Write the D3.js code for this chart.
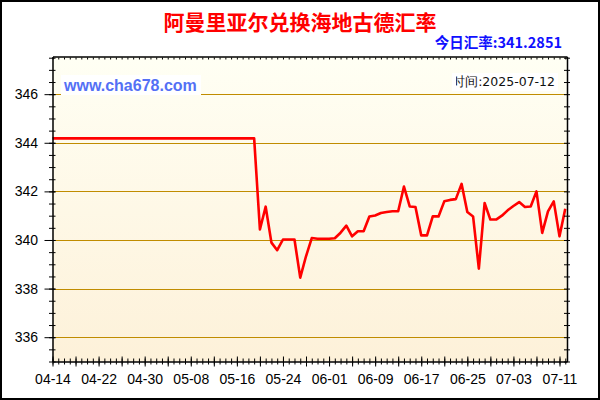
<!DOCTYPE html>
<html lang="zh">
<head>
<meta charset="utf-8"/>
<script src="https://cdnjs.cloudflare.com/ajax/libs/d3/7.8.5/d3.min.js"></script>
<style>
  body { margin: 0; background: #fff; }
  svg text { font-family: "Liberation Sans", Arial, sans-serif; }
</style>
</head>
<body>
<svg id="chart"></svg>
<script>
// chart data
var chartTitle = "阿曼里亚尔兑换海地古德汇率";
var todayRate = "今日汇率:341.2851";
var siteText = "www.cha678.com";
var timeText = "时间:2025-07-12";
var startDate = "2025-04-14";
var endDate = "2025-07-12";
var yTicks = [336, 338, 340, 342, 344, 346];
var rates = [
  344.18, 344.18, 344.18, 344.18, 344.18, 344.18, 344.18, 344.18, 344.18, 344.18,
  344.18, 344.18, 344.18, 344.18, 344.18, 344.18, 344.18, 344.18, 344.18, 344.18,
  344.18, 344.18, 344.18, 344.18, 344.18, 344.18, 344.18, 344.18, 344.18, 344.18,
  344.18, 344.18, 344.18, 344.18, 344.18, 344.18,
  340.43, 341.37, 339.89, 339.58, 340.02, 340.02, 340.02, 338.45, 339.33, 340.08,
  340.05, 340.05, 340.05, 340.07, 340.30, 340.59, 340.15, 340.36, 340.36, 340.97,
  341.01, 341.11, 341.15, 341.18, 341.18, 342.20, 341.38, 341.36, 340.19, 340.19,
  340.97, 340.97, 341.59, 341.65, 341.68, 342.31, 341.15, 340.97, 338.82, 341.52,
  340.84, 340.84, 341.00, 341.22, 341.40, 341.56, 341.36, 341.38, 342.00, 340.29,
  341.18, 341.59, 340.15, 341.2851
];

var W = 600, H = 400;
// plot box edges (named pl/pr/pt/pb so they don't clash with window.top)
var pl = 52.5, pr = 567, pt = 56.5, pb = 361.5;

var parse = d3.utcParse("%Y-%m-%d");
var d0 = parse(startDate), d1 = parse(endDate);
var days = d3.utcDay.range(d0, d3.utcDay.offset(d1, 1)); // one per day
var data = days.map(function(d, i) { return {date: d, value: rates[i]}; });

var x = d3.scaleUtc()
    .domain([d0, new Date(d1.getTime() + 0.3 * 864e5)])
    .range([pl, pr]);
var y = d3.scaleLinear()
    .domain([335, 347.55])
    .range([pb, pt]);

var svg = d3.select("#chart").attr("width", W).attr("height", H);

var defs = svg.append("defs");
var grad = defs.append("linearGradient")
    .attr("id", "bg").attr("x1", 0).attr("y1", 0).attr("x2", 0).attr("y2", 1);
grad.append("stop").attr("offset", "0%").attr("stop-color", "#fffff4");
grad.append("stop").attr("offset", "100%").attr("stop-color", "#fdf1d9");
// the time stamp is cut on its left side in the original
defs.append("clipPath").attr("id", "timeclip")
  .append("rect").attr("x", 456).attr("y", 70).attr("width", 110).attr("height", 24);

// outer frame
svg.append("rect").attr("x", 1).attr("y", 1).attr("width", W - 2).attr("height", H - 2)
  .attr("fill", "#fff").attr("stroke", "#000").attr("stroke-width", 2);

// plot background
svg.append("rect").attr("x", pl).attr("y", pt)
  .attr("width", pr - pl).attr("height", pb - pt)
  .attr("fill", "url(#bg)");

// grid lines
svg.append("g").selectAll("line").data(yTicks).enter().append("line")
  .attr("x1", pl).attr("x2", pr)
  .attr("y1", function(d) { return Math.round(y(d)) + 0.5; })
  .attr("y2", function(d) { return Math.round(y(d)) + 0.5; })
  .attr("stroke", "#c08c00").attr("stroke-width", 1);

// rate line
var line = d3.line()
  .x(function(d) { return x(d.date); })
  .y(function(d) { return y(d.value); });
svg.append("path").datum(data)
  .attr("d", line)
  .attr("fill", "none").attr("stroke", "#ff0000")
  .attr("stroke-width", 2.6).attr("stroke-linejoin", "round");

// label boxes
svg.append("rect").attr("x", 61).attr("y", 75).attr("width", 140).attr("height", 20).attr("fill", "#fff");
svg.append("text").attr("x", 64).attr("y", 91)
  .attr("font-size", 16).attr("font-weight", "bold").attr("fill", "#5470f5")
  .text(siteText);
svg.append("rect").attr("x", 452).attr("y", 73).attr("width", 106).attr("height", 18).attr("fill", "#fff");
svg.append("text").attr("x", 555).attr("y", 86).attr("text-anchor", "end")
  .attr("clip-path", "url(#timeclip)")
  .style("font-family", "'DejaVu Sans', sans-serif")
  .attr("font-size", 12.5).attr("fill", "#111")
  .text(timeText);

// axes
var halfSteps = d3.range(335, 347.51, 0.5);
var fourDays = days.filter(function(d, i) { return i % 4 === 0; });
var eightDays = days.filter(function(d, i) { return i % 8 === 0; });
var fmt = d3.utcFormat("%m-%d");

function styleAxis(g) {
  g.select(".domain").attr("stroke", "#000").attr("stroke-width", 1.5);
  g.selectAll(".tick line").attr("stroke", "#000");
}

// bottom
svg.append("g").attr("transform", "translate(0," + pb + ")")
  .call(d3.axisBottom(x).tickValues(days).tickSize(3).tickSizeOuter(0).tickFormat(""))
  .call(styleAxis)
  .selectAll(".tick line").attr("y1", -3);
svg.append("g").attr("transform", "translate(0," + pb + ")")
  .call(d3.axisBottom(x).tickValues(fourDays).tickSize(5).tickSizeOuter(0).tickFormat(""))
  .call(function(g) { g.select(".domain").remove(); })
  .selectAll(".tick line").attr("stroke", "#000").attr("y1", -5);
svg.append("g").attr("transform", "translate(0," + pb + ")")
  .call(d3.axisBottom(x).tickValues(eightDays).tickSize(0).tickPadding(13).tickFormat(fmt))
  .call(function(g) { g.select(".domain").remove(); })
  .selectAll("text").attr("font-size", 14).attr("fill", "#000");

// top
svg.append("g").attr("transform", "translate(0," + pt + ")")
  .call(d3.axisTop(x).tickValues(days).tickSize(-3).tickSizeOuter(0).tickFormat(""))
  .call(styleAxis)
  .selectAll(".tick line").attr("y1", 1);

// left
svg.append("g").attr("transform", "translate(" + pl + ",0)")
  .call(d3.axisLeft(y).tickValues(halfSteps).tickSize(3.5).tickSizeOuter(0).tickFormat(""))
  .call(styleAxis)
  .selectAll(".tick line").attr("x1", 3);
svg.append("g").attr("transform", "translate(" + pl + ",0)")
  .call(d3.axisLeft(y).tickValues(yTicks).tickSize(8).tickPadding(6.5).tickFormat(d3.format("d")))
  .call(function(g) { g.select(".domain").remove(); })
  .call(function(g) {
    g.selectAll(".tick line").attr("stroke", "#000").attr("x1", 3);
    g.selectAll("text").attr("font-size", 14).attr("fill", "#000");
  });

// right
svg.append("g").attr("transform", "translate(" + pr + ",0)")
  .call(d3.axisRight(y).tickValues(halfSteps).tickSize(-3).tickSizeOuter(0).tickFormat(""))
  .call(styleAxis)
  .selectAll(".tick line").attr("x1", 3);

// titles
svg.append("text").attr("x", 300).attr("y", 30).attr("text-anchor", "middle")
  .style("font-family", "'Noto Sans CJK SC', sans-serif")
  .attr("font-size", 21).attr("font-weight", "bold").attr("fill", "#ff0000")
  .text(chartTitle);
svg.append("text").attr("x", 562).attr("y", 48).attr("text-anchor", "end")
  .style("font-family", "'Noto Sans CJK SC', sans-serif")
  .attr("font-size", 14.5).attr("font-weight", "bold").attr("fill", "#1010ff")
  .text(todayRate);
</script>
</body>
</html>
